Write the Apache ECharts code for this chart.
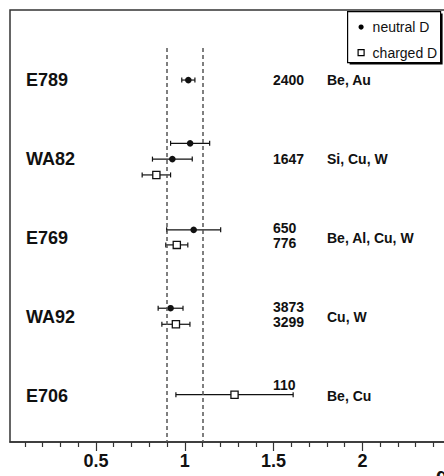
<!DOCTYPE html>
<html>
<head>
<meta charset="utf-8">
<script src="https://cdn.jsdelivr.net/npm/echarts@6/dist/echarts.min.js"></script>
<style>
  html, body { margin: 0; padding: 0; background: #fff; overflow: hidden; }
  /* the plot frame runs on past the right edge of the window */
  #chart { width: 476px; height: 490px; }
</style>
</head>
<body>
<div id="chart"></div>
<script>
// Experiments (one row each) and their nuclear targets
const experiments = ['E789', 'WA82', 'E769', 'WA92', 'E706'];
const targets = ['Be, Au', 'Si, Cu, W', 'Be, Al, Cu, W', 'Cu, W', 'Be, Cu'];

// Neutral D measurements: experiment row, alpha, error
const neutralRow = [0, 1, 1, 2, 3];
const neutralVal = [1.02, 1.03, 0.93, 1.05, 0.92];
const neutralErr = [0.037, 0.11, 0.112, 0.152, 0.07];

// Charged D measurements: experiment row, alpha, error
const chargedRow = [1, 2, 3, 4];
const chargedVal = [0.84, 0.955, 0.95, 1.28];
const chargedErr = [0.08, 0.062, 0.079, 0.33];

// Event counts quoted per experiment
const countRow = [0, 1, 2, 2, 3, 3, 4];
const countText = ['2400', '1647', '650', '776', '3873', '3299', '110'];

// Reference band
const bandEdges = [0.9, 1.1];

// Axis ticks and labels
const majorTicks = [0.5, 1, 1.5, 2, 2.5];
const tickLabels = [0.5, 1, 1.5, 2];
const minorTicks = [0.1, 0.2, 0.3, 0.4, 0.6, 0.7, 0.8, 0.9, 1.1, 1.2, 1.3, 1.4,
                    1.6, 1.7, 1.8, 1.9, 2.1, 2.2, 2.3, 2.4];
const axisTitle = 'α';

// Vertical placement inside a row (layout only)
const neutralDy = [0, -0.2, 0, -0.105, -0.114];
const chargedDy = [0.2, 0.085, 0.089, -0.02];
const countDy = [0, 0, -0.127, 0.063, -0.13, 0.063, -0.14];

const FONT = '"Liberation Sans", Arial, sans-serif';
const INK = '#111';

function errorBarItem(shape) {
  return function (params, api) {
    const x = api.value(0), e = api.value(1), y = api.value(2);
    const c = api.coord([x, y]);
    const l = api.coord([x - e, y]);
    const r = api.coord([x + e, y]);
    const cap = 2.5;
    const ls = { stroke: INK, lineWidth: 1.2 };
    const children = [
      { type: 'line', shape: { x1: l[0], y1: c[1], x2: r[0], y2: c[1] }, style: ls },
      { type: 'line', shape: { x1: l[0], y1: c[1] - cap, x2: l[0], y2: c[1] + cap }, style: ls },
      { type: 'line', shape: { x1: r[0], y1: c[1] - cap, x2: r[0], y2: c[1] + cap }, style: ls }
    ];
    if (shape === 'circle') {
      children.push({ type: 'circle', shape: { cx: c[0], cy: c[1], r: 3.3 }, style: { fill: INK } });
    } else {
      const s = 7.2;
      children.push({ type: 'rect', shape: { x: c[0] - s / 2, y: c[1] - s / 2, width: s, height: s },
        style: { fill: '#fff', stroke: INK, lineWidth: 1.3 } });
    }
    return { type: 'group', children };
  };
}

const neutralData = neutralVal.map((v, i) => [v, neutralErr[i], neutralRow[i] + 1 + neutralDy[i]]);
const chargedData = chargedVal.map((v, i) => [v, chargedErr[i], chargedRow[i] + 1 + chargedDy[i]]);
const countData = countText.map((t, i) => [countRow[i] + 1 + countDy[i]]);
const targetData = targets.map((t, i) => [i + 1]);

// Text column drawn at a fixed distance from the plot's left edge, one entry per row position
function textItem(dxFromLeft, texts) {
  return function (params, api) {
    const y = api.coord([1, api.value(0)])[1];
    const x0 = params.coordSys.x;
    return {
      type: 'text',
      x: x0 + dxFromLeft, y: y,
      style: {
        text: texts[params.dataIndex], fill: INK,
        font: 'bold 14px ' + FONT,
        textAlign: 'left', textVerticalAlign: 'middle'
      }
    };
  };
}

const chart = echarts.init(document.getElementById('chart'), null, { renderer: 'svg' });

chart.setOption({
  animation: false,
  backgroundColor: '#fff',
  grid: {
    left: 10, top: 10, right: 7, bottom: 48,
    show: true, borderColor: '#333', borderWidth: 1.5, backgroundColor: 'transparent'
  },
  xAxis: [
    {
      type: 'value', min: 0.016, max: 2.6, position: 'bottom',
      splitLine: { show: false },
      axisLine: { show: true, onZero: false, lineStyle: { color: '#333', width: 1.5 } },
      axisTick: { show: true, customValues: majorTicks, length: 9, lineStyle: { color: '#333', width: 1.2 } },
      axisLabel: {
        customValues: tickLabels, margin: 10,
        color: INK, fontFamily: FONT, fontWeight: 'bold', fontSize: 18,
        formatter: v => String(v)
      }
    },
    {
      type: 'value', min: 0.016, max: 2.6, position: 'bottom',
      splitLine: { show: false },
      axisLine: { show: false },
      axisTick: { show: true, customValues: minorTicks, length: 5, lineStyle: { color: '#333', width: 1.2 } },
      axisLabel: { show: false }
    }
  ],
  yAxis: {
    type: 'value', inverse: true, min: 0.114, max: 5.578,
    splitLine: { show: false },
    axisLine: { show: false },
    axisTick: { show: false },
    axisLabel: {
      customValues: [1, 2, 3, 4, 5], inside: true, margin: 16,
      color: INK, fontFamily: FONT, fontWeight: 'bold', fontSize: 18,
      formatter: v => experiments[Math.round(v) - 1] || ''
    }
  },
  series: [
    {
      name: 'band', type: 'line', silent: true, symbol: 'none',
      data: [],
      markLine: {
        silent: true, symbol: 'none', label: { show: false },
        lineStyle: { color: '#555', type: [4, 3], width: 1.5 },
        data: bandEdges.map(b => [{ coord: [b, 0.595] }, { coord: [b, 5.578] }])
      }
    },
    {
      name: 'neutral D', type: 'custom', renderItem: errorBarItem('circle'),
      data: neutralData, encode: { x: 0, y: 2 }, clip: false
    },
    {
      name: 'charged D', type: 'custom', renderItem: errorBarItem('rect'),
      data: chargedData, encode: { x: 0, y: 2 }, clip: false
    },
    {
      name: 'counts', type: 'custom', renderItem: textItem(263, countText),
      data: countData, encode: { y: 0 }, silent: true
    },
    {
      name: 'targets', type: 'custom', renderItem: textItem(317, targets),
      data: targetData, encode: { y: 0 }, silent: true
    }
  ],
  graphic: [
    {
      // axis title at the far right, below the tick labels
      type: 'text', left: 436, top: 465,
      style: { text: axisTitle, fill: INK, font: 'bold 20px ' + FONT }
    },
    {
      type: 'group', left: 347, top: 11,
      children: [
        { type: 'rect', shape: { x: 2, y: 2, width: 93, height: 51 }, style: { fill: '#000' } },
        { type: 'rect', shape: { x: 0, y: 0, width: 93, height: 51 }, style: { fill: '#fff', stroke: '#000', lineWidth: 1.2 } },
        { type: 'circle', shape: { cx: 13.5, cy: 15.5, r: 2.6 }, style: { fill: '#000' } },
        { type: 'text', x: 25, y: 15.5, style: { text: 'neutral D', fill: INK, font: '14px ' + FONT, textVerticalAlign: 'middle' } },
        { type: 'rect', shape: { x: 10.5, y: 38, width: 6, height: 6 }, style: { fill: '#fff', stroke: '#000', lineWidth: 1.2 } },
        { type: 'text', x: 25, y: 41, style: { text: 'charged D', fill: INK, font: '14px ' + FONT, textVerticalAlign: 'middle' } }
      ]
    }
  ]
});
</script>
</body>
</html>
